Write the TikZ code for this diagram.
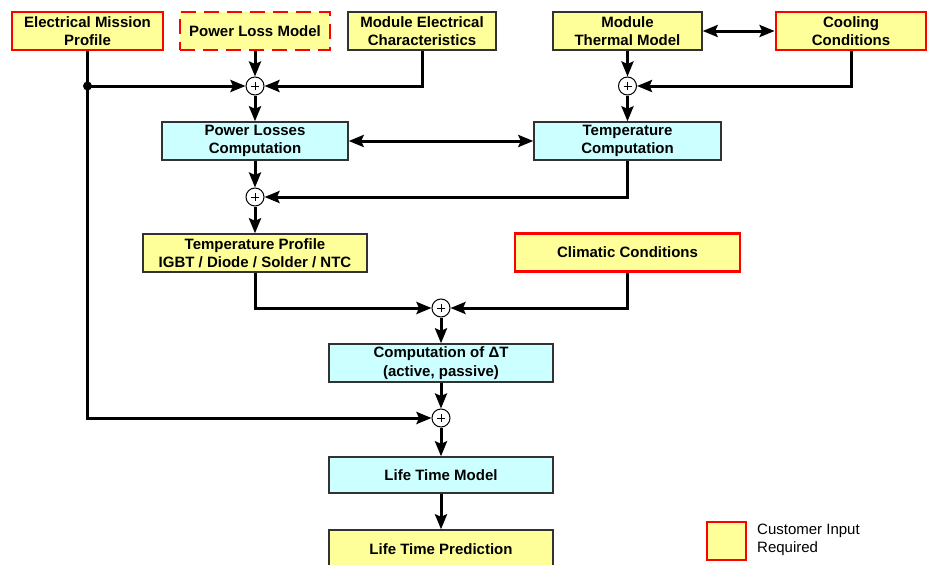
\documentclass[tikz,border=0pt]{standalone}
\usepackage{fontspec}
\setmainfont{Liberation Sans}
\usetikzlibrary{arrows.meta}
\definecolor{boxyellow}{RGB}{255,255,153}
\definecolor{boxcyan}{RGB}{204,255,255}
\definecolor{boxred}{RGB}{255,0,0}
\definecolor{boxedge}{RGB}{50,50,50}
\tikzset{
  base/.style={inner sep=0pt, align=center, font=\fontsize{15}{18.5}\selectfont\bfseries, minimum height=38pt},
  ybox/.style={base, fill=boxyellow, draw=boxedge, line width=1.4pt},
  cbox/.style={base, fill=boxcyan, draw=boxedge, line width=1.4pt},
  rbox/.style={base, fill=boxyellow, draw=boxred, line width=2.8pt},
  dbox/.style={base, fill=boxyellow, draw=boxred, line width=2.8pt, dash pattern=on 15pt off 8pt},
  sumnode/.style={circle, draw=black, fill=white, line width=1pt, minimum size=18pt, inner sep=0pt,
    path picture={\draw[line width=1pt] (path picture bounding box.center) +(-4pt,0) -- +(4pt,0)
      (path picture bounding box.center) +(0,-4pt) -- +(0,4pt);}},
  tip/.tip={Stealth[length=15pt,width=12pt,inset=2.5pt]},
  arr/.style={line width=3pt, -tip},
  darr/.style={line width=3pt, tip-tip},
}
\begin{document}
\begin{tikzpicture}[x=1pt,y=-1pt]
\useasboundingbox (0,0) rectangle (930,565);
% top row
\node[rbox, minimum width=151pt] (emp) at (87.5,31) {Electrical Mission\\Profile};
\node[dbox, minimum width=150pt] (plm) at (255,31) {Power Loss Model};
\node[ybox, minimum width=148pt] (mec) at (422,31) {Module Electrical\\Characteristics};
\node[ybox, minimum width=149pt] (mtm) at (627.5,31) {Module\\Thermal Model};
\node[rbox, minimum width=150pt] (cool) at (851,31) {Cooling\\Conditions};
% computations
\node[cbox, minimum width=186pt] (plc) at (255,141) {Power Losses\\Computation};
\node[cbox, minimum width=187pt] (tc) at (627.5,141) {Temperature\\Computation};
\node[ybox, minimum width=224pt] (tp) at (255,253) {Temperature Profile\\IGBT / Diode / Solder / NTC};
\node[rbox, minimum width=225pt] (cc) at (627.5,252.5) {Climatic Conditions};
\node[cbox, minimum width=224pt] (dT) at (441,363) {Computation of ΔT\\(active, passive)};
\node[cbox, minimum width=224pt, minimum height=36pt] (ltm) at (441,475) {Life Time Model};
\node[ybox, minimum width=224pt] (ltp) at (441,549) {Life Time Prediction};
% sum junctions
\node[sumnode] (s1) at (255,86) {};
\node[sumnode] (s2) at (627.5,86) {};
\node[sumnode] (s3) at (255,197) {};
\node[sumnode] (s4) at (441,308) {};
\node[sumnode] (s5) at (441,418) {};
\coordinate (dot) at (emp.south |- s1);
% connectors
\draw[arr] (plm) -- (s1);
\draw[arr] (mec.south) |- (s1);
\draw[arr] (emp.south) |- (s5);
\draw[arr] (dot) -- (s1);
\fill (dot) circle (4.5pt);
\draw[arr] (s1) -- (plc);
\draw[darr] (plc) -- (tc);
\draw[darr] (mtm) -- (cool);
\draw[arr] (mtm) -- (s2);
\draw[arr] (cool.south) |- (s2);
\draw[arr] (s2) -- (tc);
\draw[arr] (plc) -- (s3);
\draw[arr] (tc.south) |- (s3);
\draw[arr] (s3) -- (tp);
\draw[arr] (tp.south) |- (s4);
\draw[arr] (cc.south) |- (s4);
\draw[arr] (s4) -- (dT);
\draw[arr] (dT) -- (s5);
\draw[arr] (s5) -- (ltm);
\draw[arr] (ltm) -- (ltp);
% legend
\node[rbox, minimum width=39pt, minimum height=38pt] (leg) at (726.5,541) {};
\node[anchor=west, align=left, inner sep=0pt, font=\fontsize{15}{18.5}\selectfont] (legt) at (757,540) {Customer Input\\Required};
\end{tikzpicture}
\end{document}
